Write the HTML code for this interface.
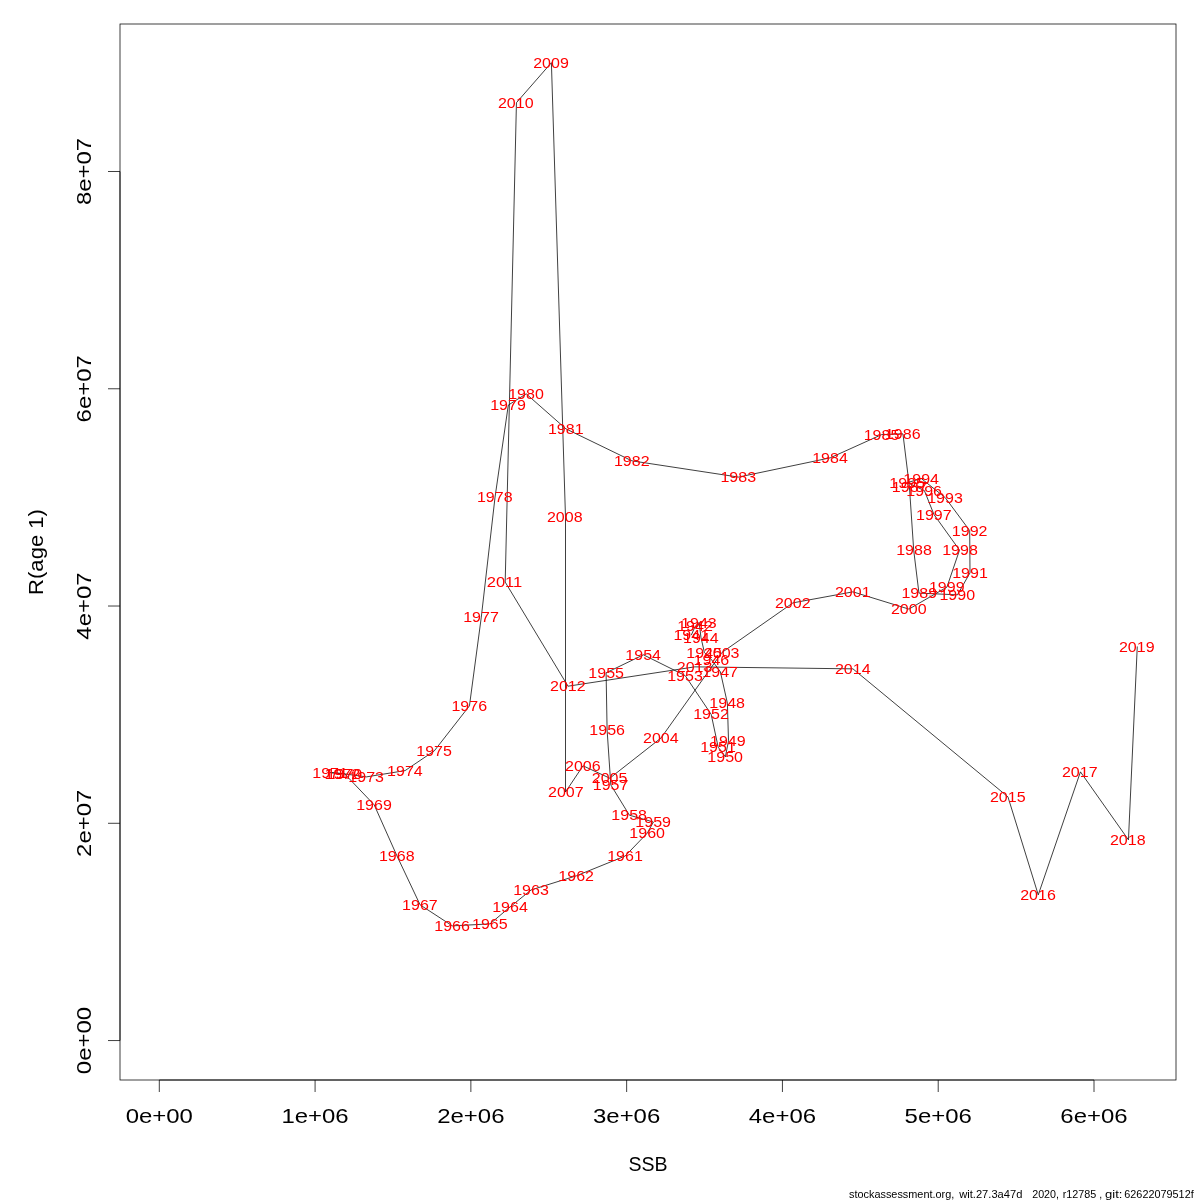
<!DOCTYPE html>
<html><head><meta charset="utf-8"><title>SSB vs R(age 1)</title>
<style>html,body{margin:0;padding:0;background:#fff;}body{width:1200px;height:1200px;overflow:hidden;}svg{display:block;}text{font-family:"Liberation Sans",sans-serif;}</style>
</head><body>
<svg width="1200" height="1200" viewBox="0 0 1200 1200" style="will-change:transform">
<rect x="0" y="0" width="1200" height="1200" fill="#ffffff"/>
<path d="M691.45 634.80 L695.20 626.30 L699.10 622.50 L701.00 637.70 L704.40 652.50 L711.60 659.80 L720.40 671.85 L727.40 703.20 L728.50 740.80 L725.40 756.80 L718.20 747.20 L711.20 714.40 L685.20 675.60 L643.40 654.80 L606.10 672.80 L607.10 730.00 L610.80 784.90 L629.40 815.20 L653.40 822.00 L647.40 833.00 L625.20 856.00 L576.40 875.80 L531.20 889.90 L510.20 906.80 L490.00 923.90 L452.30 925.85 L420.10 904.85 L396.95 855.85 L374.20 804.85 L344.60 773.80 L330.30 772.60 L342.50 773.60 L366.40 776.90 L405.10 770.60 L434.30 750.85 L469.45 705.85 L481.30 617.10 L495.05 497.10 L508.30 405.10 L526.20 393.85 L565.95 428.85 L631.95 460.85 L738.45 477.10 L830.20 457.85 L881.70 434.60 L902.95 433.85 L909.40 486.60 L913.70 550.10 L918.95 593.10 L957.45 594.85 L970.00 572.85 L969.70 530.60 L945.20 497.60 L921.40 478.60 L907.40 482.60 L924.40 490.60 L934.00 514.60 L959.50 550.10 L946.95 587.10 L908.95 609.10 L852.95 591.85 L792.95 602.85 L721.90 652.50 L661.00 738.00 L609.80 778.20 L583.00 765.80 L565.50 792.00 L565.50 517.10 L551.40 62.70 L516.45 102.70 L505.20 582.10 L568.00 686.20 L694.80 666.85 L852.95 668.85 L1007.95 796.85 L1038.25 894.85 L1080.45 771.85 L1128.45 839.85 L1137.25 646.85" fill="none" stroke="#000" stroke-width="0.75" stroke-linejoin="round" stroke-linecap="round"/>
<rect x="120" y="24" width="1056" height="1056" fill="none" stroke="#000" stroke-width="0.75"/>
<g stroke="#000" stroke-width="0.75" fill="none">
<path d="M159.30 1080 L1094.00 1080"/>
<path d="M159.30 1080 L159.30 1092"/>
<path d="M315.08 1080 L315.08 1092"/>
<path d="M470.87 1080 L470.87 1092"/>
<path d="M626.65 1080 L626.65 1092"/>
<path d="M782.43 1080 L782.43 1092"/>
<path d="M938.21 1080 L938.21 1092"/>
<path d="M1094.00 1080 L1094.00 1092"/>
<path d="M120 1040.55 L120 171.51"/>
<path d="M120 1040.55 L108 1040.55"/>
<path d="M120 823.29 L108 823.29"/>
<path d="M120 606.03 L108 606.03"/>
<path d="M120 388.77 L108 388.77"/>
<path d="M120 171.51 L108 171.51"/>
</g>
<g fill="#000" font-size="20.80" text-anchor="middle">
<text x="159.30" y="1123" textLength="67.24" lengthAdjust="spacingAndGlyphs">0e+00</text>
<text x="315.08" y="1123" textLength="67.24" lengthAdjust="spacingAndGlyphs">1e+06</text>
<text x="470.87" y="1123" textLength="67.24" lengthAdjust="spacingAndGlyphs">2e+06</text>
<text x="626.65" y="1123" textLength="67.24" lengthAdjust="spacingAndGlyphs">3e+06</text>
<text x="782.43" y="1123" textLength="67.24" lengthAdjust="spacingAndGlyphs">4e+06</text>
<text x="938.21" y="1123" textLength="67.24" lengthAdjust="spacingAndGlyphs">5e+06</text>
<text x="1094.00" y="1123" textLength="67.24" lengthAdjust="spacingAndGlyphs">6e+06</text>
<text transform="translate(91.3 1040.55) rotate(-90)" textLength="67.24" lengthAdjust="spacingAndGlyphs">0e+00</text>
<text transform="translate(91.3 823.29) rotate(-90)" textLength="67.24" lengthAdjust="spacingAndGlyphs">2e+07</text>
<text transform="translate(91.3 606.03) rotate(-90)" textLength="67.24" lengthAdjust="spacingAndGlyphs">4e+07</text>
<text transform="translate(91.3 388.77) rotate(-90)" textLength="67.24" lengthAdjust="spacingAndGlyphs">6e+07</text>
<text transform="translate(91.3 171.51) rotate(-90)" textLength="67.24" lengthAdjust="spacingAndGlyphs">8e+07</text>
<text x="648" y="1171" textLength="39.11" lengthAdjust="spacingAndGlyphs">SSB</text>
<text transform="translate(43.1 552) rotate(-90)" textLength="85.84" lengthAdjust="spacingAndGlyphs">R(age 1)</text>
</g>
<g fill="#ff0000" font-size="15.00" text-anchor="middle">
<text x="691.25" y="639.80" textLength="35.63" lengthAdjust="spacingAndGlyphs">1941</text>
<text x="695.00" y="631.30" textLength="35.63" lengthAdjust="spacingAndGlyphs">1942</text>
<text x="698.90" y="627.50" textLength="35.63" lengthAdjust="spacingAndGlyphs">1943</text>
<text x="700.80" y="642.70" textLength="35.63" lengthAdjust="spacingAndGlyphs">1944</text>
<text x="704.20" y="657.50" textLength="35.63" lengthAdjust="spacingAndGlyphs">1945</text>
<text x="711.40" y="664.80" textLength="35.63" lengthAdjust="spacingAndGlyphs">1946</text>
<text x="720.20" y="676.85" textLength="35.63" lengthAdjust="spacingAndGlyphs">1947</text>
<text x="727.20" y="708.20" textLength="35.63" lengthAdjust="spacingAndGlyphs">1948</text>
<text x="727.80" y="745.80" textLength="35.63" lengthAdjust="spacingAndGlyphs">1949</text>
<text x="725.20" y="761.80" textLength="35.63" lengthAdjust="spacingAndGlyphs">1950</text>
<text x="718.00" y="752.20" textLength="35.63" lengthAdjust="spacingAndGlyphs">1951</text>
<text x="711.00" y="719.40" textLength="35.63" lengthAdjust="spacingAndGlyphs">1952</text>
<text x="685.00" y="680.60" textLength="35.63" lengthAdjust="spacingAndGlyphs">1953</text>
<text x="643.20" y="659.80" textLength="35.63" lengthAdjust="spacingAndGlyphs">1954</text>
<text x="606.20" y="677.80" textLength="35.63" lengthAdjust="spacingAndGlyphs">1955</text>
<text x="607.20" y="735.00" textLength="35.63" lengthAdjust="spacingAndGlyphs">1956</text>
<text x="610.60" y="789.90" textLength="35.63" lengthAdjust="spacingAndGlyphs">1957</text>
<text x="629.20" y="820.20" textLength="35.63" lengthAdjust="spacingAndGlyphs">1958</text>
<text x="653.20" y="827.00" textLength="35.63" lengthAdjust="spacingAndGlyphs">1959</text>
<text x="647.20" y="838.00" textLength="35.63" lengthAdjust="spacingAndGlyphs">1960</text>
<text x="625.00" y="861.00" textLength="35.63" lengthAdjust="spacingAndGlyphs">1961</text>
<text x="576.20" y="880.80" textLength="35.63" lengthAdjust="spacingAndGlyphs">1962</text>
<text x="531.00" y="894.90" textLength="35.63" lengthAdjust="spacingAndGlyphs">1963</text>
<text x="510.00" y="911.80" textLength="35.63" lengthAdjust="spacingAndGlyphs">1964</text>
<text x="489.80" y="928.90" textLength="35.63" lengthAdjust="spacingAndGlyphs">1965</text>
<text x="452.10" y="930.85" textLength="35.63" lengthAdjust="spacingAndGlyphs">1966</text>
<text x="419.90" y="909.85" textLength="35.63" lengthAdjust="spacingAndGlyphs">1967</text>
<text x="396.75" y="860.85" textLength="35.63" lengthAdjust="spacingAndGlyphs">1968</text>
<text x="374.00" y="809.85" textLength="35.63" lengthAdjust="spacingAndGlyphs">1969</text>
<text x="344.40" y="778.80" textLength="35.63" lengthAdjust="spacingAndGlyphs">1970</text>
<text x="330.10" y="777.60" textLength="35.63" lengthAdjust="spacingAndGlyphs">1971</text>
<text x="342.30" y="778.60" textLength="35.63" lengthAdjust="spacingAndGlyphs">1972</text>
<text x="366.20" y="781.90" textLength="35.63" lengthAdjust="spacingAndGlyphs">1973</text>
<text x="404.90" y="775.60" textLength="35.63" lengthAdjust="spacingAndGlyphs">1974</text>
<text x="434.10" y="755.85" textLength="35.63" lengthAdjust="spacingAndGlyphs">1975</text>
<text x="469.25" y="710.85" textLength="35.63" lengthAdjust="spacingAndGlyphs">1976</text>
<text x="481.00" y="622.10" textLength="35.63" lengthAdjust="spacingAndGlyphs">1977</text>
<text x="494.75" y="502.10" textLength="35.63" lengthAdjust="spacingAndGlyphs">1978</text>
<text x="508.00" y="410.10" textLength="35.63" lengthAdjust="spacingAndGlyphs">1979</text>
<text x="526.00" y="398.85" textLength="35.63" lengthAdjust="spacingAndGlyphs">1980</text>
<text x="565.75" y="433.85" textLength="35.63" lengthAdjust="spacingAndGlyphs">1981</text>
<text x="631.75" y="465.85" textLength="35.63" lengthAdjust="spacingAndGlyphs">1982</text>
<text x="738.25" y="482.10" textLength="35.63" lengthAdjust="spacingAndGlyphs">1983</text>
<text x="830.00" y="462.85" textLength="35.63" lengthAdjust="spacingAndGlyphs">1984</text>
<text x="881.50" y="439.60" textLength="35.63" lengthAdjust="spacingAndGlyphs">1985</text>
<text x="902.75" y="438.85" textLength="35.63" lengthAdjust="spacingAndGlyphs">1986</text>
<text x="909.70" y="491.60" textLength="35.63" lengthAdjust="spacingAndGlyphs">1987</text>
<text x="914.00" y="555.10" textLength="35.63" lengthAdjust="spacingAndGlyphs">1988</text>
<text x="919.25" y="598.10" textLength="35.63" lengthAdjust="spacingAndGlyphs">1989</text>
<text x="957.25" y="599.85" textLength="35.63" lengthAdjust="spacingAndGlyphs">1990</text>
<text x="970.00" y="577.85" textLength="35.63" lengthAdjust="spacingAndGlyphs">1991</text>
<text x="969.70" y="535.60" textLength="35.63" lengthAdjust="spacingAndGlyphs">1992</text>
<text x="945.00" y="502.60" textLength="35.63" lengthAdjust="spacingAndGlyphs">1993</text>
<text x="921.20" y="483.60" textLength="35.63" lengthAdjust="spacingAndGlyphs">1994</text>
<text x="907.20" y="487.60" textLength="35.63" lengthAdjust="spacingAndGlyphs">1995</text>
<text x="924.20" y="495.60" textLength="35.63" lengthAdjust="spacingAndGlyphs">1996</text>
<text x="933.80" y="519.60" textLength="35.63" lengthAdjust="spacingAndGlyphs">1997</text>
<text x="960.00" y="555.10" textLength="35.63" lengthAdjust="spacingAndGlyphs">1998</text>
<text x="946.75" y="592.10" textLength="35.63" lengthAdjust="spacingAndGlyphs">1999</text>
<text x="908.75" y="614.10" textLength="35.63" lengthAdjust="spacingAndGlyphs">2000</text>
<text x="852.75" y="596.85" textLength="35.63" lengthAdjust="spacingAndGlyphs">2001</text>
<text x="792.75" y="607.85" textLength="35.63" lengthAdjust="spacingAndGlyphs">2002</text>
<text x="721.70" y="657.50" textLength="35.63" lengthAdjust="spacingAndGlyphs">2003</text>
<text x="660.80" y="743.00" textLength="35.63" lengthAdjust="spacingAndGlyphs">2004</text>
<text x="609.60" y="783.20" textLength="35.63" lengthAdjust="spacingAndGlyphs">2005</text>
<text x="582.80" y="770.80" textLength="35.63" lengthAdjust="spacingAndGlyphs">2006</text>
<text x="565.80" y="797.00" textLength="35.63" lengthAdjust="spacingAndGlyphs">2007</text>
<text x="564.75" y="522.10" textLength="35.63" lengthAdjust="spacingAndGlyphs">2008</text>
<text x="551.00" y="67.70" textLength="35.63" lengthAdjust="spacingAndGlyphs">2009</text>
<text x="515.75" y="107.70" textLength="35.63" lengthAdjust="spacingAndGlyphs">2010</text>
<text x="504.50" y="587.10" textLength="35.63" lengthAdjust="spacingAndGlyphs">2011</text>
<text x="567.80" y="691.20" textLength="35.63" lengthAdjust="spacingAndGlyphs">2012</text>
<text x="694.60" y="671.85" textLength="35.63" lengthAdjust="spacingAndGlyphs">2013</text>
<text x="852.75" y="673.85" textLength="35.63" lengthAdjust="spacingAndGlyphs">2014</text>
<text x="1007.75" y="801.85" textLength="35.63" lengthAdjust="spacingAndGlyphs">2015</text>
<text x="1038.00" y="899.85" textLength="35.63" lengthAdjust="spacingAndGlyphs">2016</text>
<text x="1079.75" y="776.85" textLength="35.63" lengthAdjust="spacingAndGlyphs">2017</text>
<text x="1127.75" y="844.85" textLength="35.63" lengthAdjust="spacingAndGlyphs">2018</text>
<text x="1136.75" y="651.85" textLength="35.63" lengthAdjust="spacingAndGlyphs">2019</text>
</g>
<g fill="#000" font-size="10.40">
<text x="849.00" y="1197.8" textLength="105.30" lengthAdjust="spacingAndGlyphs">stockassessment.org,</text>
<text x="959.20" y="1197.8" textLength="63.20" lengthAdjust="spacingAndGlyphs">wit.27.3a47d</text>
<text x="1032.20" y="1197.8" textLength="26.80" lengthAdjust="spacingAndGlyphs">2020,</text>
<text x="1062.70" y="1197.8" textLength="33.60" lengthAdjust="spacingAndGlyphs">r12785</text>
<text x="1099.20" y="1197.8">,</text>
<text x="1105.00" y="1197.8" textLength="17.40" lengthAdjust="spacingAndGlyphs">git:</text>
<text x="1124.30" y="1197.8" textLength="69.40" lengthAdjust="spacingAndGlyphs">62622079512f</text>
</g>
</svg></body></html>
